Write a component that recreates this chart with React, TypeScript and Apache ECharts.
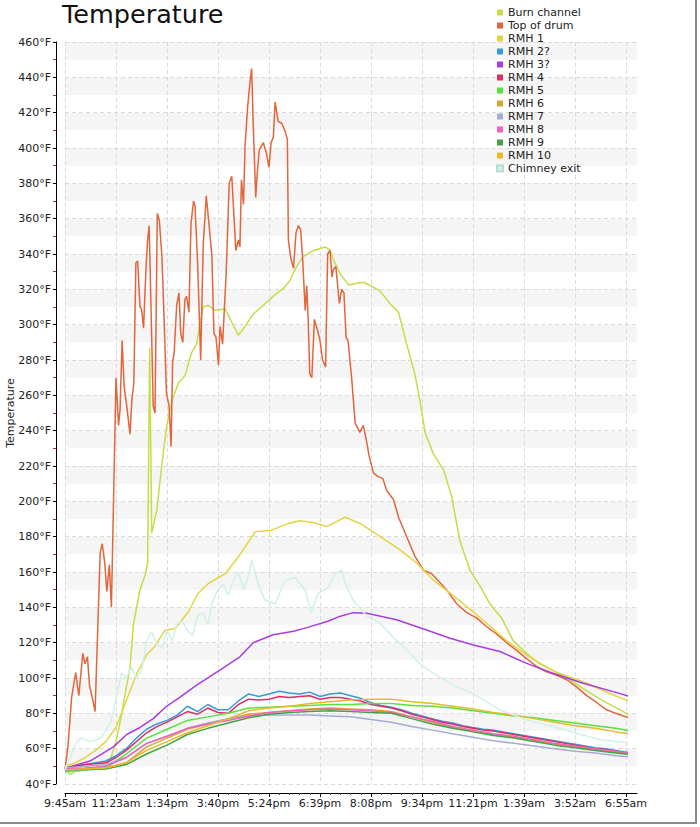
import React, { useEffect, useRef } from "react";
import * as echarts from "echarts";

const TIME_LABELS = ["9:45am", "11:23am", "1:34pm", "3:40pm", "5:24pm", "6:39pm", "8:08pm", "9:34pm", "11:21pm", "1:39am", "3:52am", "6:55am"];

const SERIES_NAMES = ["Burn channel", "Top of drum", "RMH 1", "RMH 2?", "RMH 3?", "RMH 4", "RMH 5", "RMH 6", "RMH 7", "RMH 8", "RMH 9", "RMH 10", "Chimney exit"];
const SERIES_COLORS = ["#c6dc48", "#e2653c", "#e2d640", "#3a98dc", "#a83ce0", "#dc2e62", "#58e040", "#dca232", "#a4acd2", "#f062bc", "#40a444", "#e8ba28", "#d0f0ea"];

// time index samples (one label every 10 samples)
const STEP2_X = [0, 2, 4, 6, 8, 10, 12, 14, 16, 18, 20, 22, 24, 26, 28, 30, 32, 34, 36, 38, 40, 42, 44, 46, 48, 50, 52, 54, 56, 58, 60, 62, 64, 66, 68, 70, 72, 74, 76, 78, 80, 82, 84, 86, 88, 90, 92, 94, 96, 98, 100, 102, 104, 106, 108, 110, 112];
const STEP4_X = [0, 4, 8, 12, 16, 20, 24, 28, 32, 36, 40, 44, 48, 52, 56, 60, 64, 68, 72, 76, 80, 84, 88, 92, 96, 100, 104, 108, 112];

const TOP_OF_DRUM: [number, number][] = [
  [0, 48], [0.6, 62], [1.3, 89], [2.1, 103], [2.7, 90], [3.5, 114], [3.9, 108], [4.4, 112], [4.8, 96], [5.4, 88], [5.9, 81],
  [6.9, 171], [7.3, 176], [7.8, 165], [8.2, 149], [8.7, 164], [9.1, 140], [10, 270], [10.5, 243], [10.8, 252], [11.2, 291],
  [11.6, 265], [12.1, 254], [12.75, 238], [13.1, 257], [13.5, 267], [13.9, 335], [14.25, 336], [14.7, 310], [15, 309],
  [15.4, 298], [15.9, 333], [16.2, 348], [16.5, 356], [17.3, 254], [17.65, 250], [18.1, 363], [18.5, 359], [19, 339],
  [19.4, 306], [19.9, 261], [20.4, 254], [20.8, 231], [21.1, 279], [21.4, 284], [21.9, 311], [22.35, 318], [22.7, 295],
  [23.1, 290], [23.5, 314], [23.85, 316], [24.3, 307], [24.7, 357], [25.2, 370], [25.5, 367], [26, 335], [26.6, 280],
  [27.1, 345], [27.7, 373], [28.1, 361], [28.8, 339], [29.2, 295], [29.6, 293], [30.1, 277], [30.4, 299], [30.9, 289],
  [31.6, 329], [32.2, 380], [32.7, 384], [33.1, 363], [33.5, 342], [34, 348], [34.3, 344], [34.6, 382], [35, 368],
  [35.3, 401], [35.8, 423], [36.3, 438], [36.6, 445], [36.9, 414], [37.4, 372], [37.7, 386], [38.1, 399], [38.9, 403],
  [39.5, 397], [40, 389], [40.4, 403], [40.85, 406], [41.2, 426], [41.8, 415], [42.5, 414], [43.1, 410], [43.6, 405],
  [43.8, 348], [44.25, 338], [44.8, 332], [45.3, 352], [45.75, 356], [46.2, 354], [46.6, 337], [47.1, 308], [47.4, 322],
  [47.7, 301], [48, 272], [48.4, 270], [48.9, 303], [49.5, 297], [50, 291], [50.5, 280], [51.1, 276], [51.5, 340],
  [51.96, 342], [52.35, 327], [52.6, 331], [53.1, 333], [53.8, 312], [54.25, 320], [54.7, 318], [55.1, 293], [55.5, 291],
  [56.2, 270], [56.9, 244], [57.3, 242], [57.8, 239], [58.5, 243], [59.2, 233], [59.6, 226], [60.5, 216], [61.4, 214],
  [62.3, 213], [63.1, 206], [64.4, 201], [65.4, 191], [67, 180], [68.6, 169], [70.3, 161], [71.9, 159], [73.2, 155],
  [74.8, 150], [76.8, 142], [78.8, 137], [80.7, 134], [82.7, 129], [84.6, 125], [86.6, 120], [88.6, 115.5], [90.5, 111],
  [92.5, 106.5], [94.4, 103.5], [96.4, 101.5], [98.4, 99], [100.3, 95], [102.3, 90], [104.3, 86], [106.2, 82], [108, 80],
  [110, 78], [112, 76],
];

const BURN_CHANNEL: [number, number][] = [
  [0, 48], [1, 45.5], [2, 47], [4, 48], [6, 49], [8, 50], [9, 55], [10.1, 65], [11, 78], [11.8, 91], [12.75, 106],
  [13.4, 130], [14.7, 150], [15.7, 158], [16.2, 165], [16.6, 287], [17, 182], [18, 195], [19, 221], [19.9, 242],
  [20.9, 256], [22.2, 267], [23.5, 271], [24.8, 284], [25.8, 289], [26.5, 301], [27.1, 310], [28.1, 311], [29.4, 308],
  [31.4, 309], [32.4, 303], [34, 294], [35.3, 299], [36.9, 306], [38.9, 311], [40.8, 316], [42.8, 320.5], [44.1, 325],
  [45.4, 333], [46.7, 338.5], [48.7, 342], [51, 344], [52, 342], [52.6, 337], [53.9, 329], [55.6, 322.5], [57.2, 323.5],
  [58.5, 324], [60, 322], [61.8, 319], [63.7, 312], [65.4, 307], [67, 289], [68.6, 272], [69.6, 257], [70.6, 239],
  [72.2, 227], [74.2, 218], [75.8, 203], [77.4, 178], [79.4, 161], [81.4, 152], [83.3, 142], [85.6, 134], [87.9, 121],
  [90.5, 114], [93.1, 108], [95.8, 104], [98.4, 100], [101.6, 94], [104.9, 88], [108.8, 82], [112, 77],
];

const RMH1: [number, number][] = [
  [0, 50], [2, 52], [4, 55], [6, 59], [8, 64], [10, 72], [12, 87], [14, 102], [16, 113], [17.6, 118], [19.6, 127],
  [21.6, 128], [24.2, 137.5], [26.1, 148], [28.1, 153.5], [31.4, 159], [34, 168.6], [37.3, 182.8], [40.5, 183.7],
  [43.8, 187.5], [46, 189], [48.7, 188], [51.3, 185.7], [54.9, 191], [57.8, 187.6], [61.8, 180], [65.7, 172.5],
  [69, 165], [72.2, 155.5], [75.5, 148], [78.8, 140.4], [82.7, 131], [86.6, 121], [91.8, 110.5], [96.1, 103.6],
  [102.3, 97], [107.5, 90.4], [112, 85.3],
];

const RMH3: [number, number][] = [
  [0, 49], [4.9, 53], [9.5, 61], [12.1, 68], [14.7, 72], [17.3, 77], [19.9, 84], [22.5, 89], [25.8, 96], [29.1, 102],
  [31.7, 107], [34.3, 112], [36.9, 120], [40.8, 124.5], [44.8, 126.5], [47.4, 128.5], [51.4, 132], [54, 135],
  [56.5, 137], [59.2, 136.6], [65, 133], [70.9, 127.2], [75.5, 122.5], [80.1, 118.7], [85.3, 115], [90.5, 108.3],
  [95.7, 102.7], [101.6, 97], [107.5, 92.3], [112, 88.5],
];

const CHIMNEY: [number, number][] = [
  [0, 48], [1, 55], [2, 62], [3, 66], [5, 64], [7, 66], [9, 75], [10.5, 95], [11.1, 103], [12, 100], [13, 106],
  [14, 100], [15, 104], [16, 121], [17, 126], [18, 119], [19, 117], [20, 127], [21, 121], [22, 131], [23, 132],
  [24, 127], [25, 124], [26, 135], [27, 137], [28, 130], [29, 144], [30, 150], [31, 153], [32, 147], [33, 155],
  [34, 160], [35, 150], [36, 158], [36.6, 167], [37.9, 153], [39.2, 144], [41.2, 142], [43.1, 155], [45.1, 157],
  [47.1, 150], [48.2, 137], [49.7, 148], [51.6, 151], [52.9, 159], [54.3, 161], [54.9, 154], [56.5, 144], [59.2, 135],
  [61.8, 131], [64.4, 123], [67, 116], [69.6, 108], [72.2, 102.6], [76.1, 96], [80.1, 91], [85.3, 82], [90.5, 76.3],
  [95.8, 72.5], [100.3, 68.7], [104.9, 65], [108, 64], [112, 63],
];

const RMH2_V = [49, 50, 51, 52, 53, 56, 60, 66, 71, 74, 76, 79, 84, 81, 85, 82, 82, 87, 91, 89.5, 91, 92.5, 91.5, 91, 92, 89.5, 91, 91.5, 90, 88.5, 86, 84.5, 83.5, 82, 80, 78.5, 77, 75.5, 74.5, 73, 72, 71, 70.5, 69.5, 68.5, 67.5, 66.5, 65.5, 64.5, 63.5, 62.5, 61.5, 60.5, 60, 59, 58, 57.5];
const RMH4_V = [49, 50, 51, 51.5, 52, 55, 59, 64, 69, 72.5, 75, 78, 81, 79.5, 83, 80.5, 80, 85, 88, 87.5, 88, 89.5, 89, 89.5, 90, 88, 89, 89, 88, 87, 85, 84, 83, 81.5, 79.5, 78, 76.5, 75, 74, 72.5, 71.5, 70.5, 70, 69, 68, 67, 66, 65, 64, 63, 62, 61, 60, 59.5, 58.5, 57.5, 57];
const RMH5_V = [47, 48, 49, 57, 66, 71, 76, 78, 80, 83, 83.5, 84, 84.5, 85, 85, 85.5, 85.5, 84.5, 84, 83, 81.5, 80, 78.5, 77.5, 76, 74.5, 73, 71.5, 69.5];
const RMH6_V = [48, 48.5, 49, 52, 61, 66, 71, 74, 77, 79.5, 80.5, 81.5, 82.5, 83, 82.5, 82, 81, 78, 75, 72, 70, 68, 66.5, 64.5, 62.5, 61, 59.5, 58, 56.5];
const RMH7_V = [49, 50, 51, 55, 63, 67, 71.5, 74.5, 77, 78.5, 79, 79, 79, 78.5, 78, 76.5, 75, 72.5, 70.5, 68.5, 66.5, 64.5, 63, 61.5, 60, 58.5, 57.5, 56, 55];
const RMH8_V = [48.5, 49, 50, 55, 63, 67, 71.5, 74, 76, 78.5, 80.5, 81.5, 82, 82.5, 82, 81.5, 80.5, 78, 75.5, 72.5, 70.5, 68.5, 67, 65, 63, 61.5, 60, 58.5, 57];
const RMH9_V = [48, 48, 48.5, 51, 57, 62, 68, 71.5, 74.5, 77.5, 79.5, 80.5, 81, 81.5, 81, 80.5, 80, 77, 74, 71.5, 69.5, 67.5, 66, 64, 62, 60.5, 59, 57.5, 56.5];
const RMH10_V = [48, 48.5, 49, 52, 59, 64, 69, 73, 77, 81.5, 83, 84, 85.5, 86.5, 87.5, 88, 88, 86.5, 85.5, 84, 82.5, 80.5, 79, 77, 75, 73, 71.5, 69.5, 68];

const zip = (xs: number[], ys: number[]) => xs.map((x, k) => [x, ys[k]]);

const SERIES_DATA: number[][][] = [
  BURN_CHANNEL,
  TOP_OF_DRUM,
  RMH1,
  zip(STEP2_X, RMH2_V),
  RMH3,
  zip(STEP2_X, RMH4_V),
  zip(STEP4_X, RMH5_V),
  zip(STEP4_X, RMH6_V),
  zip(STEP4_X, RMH7_V),
  zip(STEP4_X, RMH8_V),
  zip(STEP4_X, RMH9_V),
  zip(STEP4_X, RMH10_V),
  CHIMNEY,
];

const FONT = "DejaVu Sans";

export default function App() {
  const ref = useRef<HTMLDivElement>(null);
  useEffect(() => {
    if (!ref.current) return;
    const chart = echarts.init(ref.current, null, { renderer: "svg" });
    const series = SERIES_NAMES.map((name, k) => ({
      name,
      type: "line",
      xAxisIndex: 1,
      yAxisIndex: 2,
      data: SERIES_DATA[k],
      showSymbol: false,
      symbol: "none",
      clip: false,
      lineStyle: { width: 1.5, color: SERIES_COLORS[k] },
      itemStyle: { color: SERIES_COLORS[k], borderColor: k === 12 ? "#b8dcd8" : SERIES_COLORS[k], borderWidth: k === 12 ? 1 : 0 },
      emphasis: { disabled: true },
    }));
    chart.setOption({
      animation: false,
      backgroundColor: "#ffffff",
      title: {
        text: "Temperature",
        left: 62,
        top: 2,
        padding: 0,
        textStyle: { fontSize: 25.5, fontWeight: "normal", color: "#111", fontFamily: FONT, lineHeight: 24 },
      },
      legend: {
        orient: "vertical",
        left: 496,
        top: 7,
        padding: 0,
        itemWidth: 6,
        itemHeight: 6,
        itemGap: 2,
        icon: "rect",
        selectedMode: false,
        textStyle: { fontSize: 11, color: "#222", fontFamily: FONT, lineHeight: 11 },
        data: SERIES_NAMES,
      },
      grid: [
        { left: 65, right: 63, top: 42, bottom: 43, outerBoundsMode: "none" },
        { left: 65, right: 74, top: 42, bottom: 43, outerBoundsMode: "none" },
      ],
      xAxis: [
        {
          gridIndex: 0,
          type: "value",
          min: 0,
          max: 1,
          position: "bottom",
          offset: 9,
          axisLine: { show: true, lineStyle: { color: "#000", width: 1 } },
          axisTick: { show: false },
          axisLabel: { show: false },
          splitLine: { show: false },
        },
        {
          gridIndex: 1,
          type: "value",
          min: 0,
          max: 110,
          interval: 10,
          position: "bottom",
          offset: 9,
          axisLine: { show: false },
          axisTick: { show: true, length: 4, lineStyle: { color: "#000" } },
          minorTick: { show: true, splitNumber: 5, length: 2, lineStyle: { color: "#444" } },
          axisLabel: {
            formatter: (v: number) => TIME_LABELS[Math.round(v / 10)] ?? "",
            fontSize: 11,
            color: "#222",
            fontFamily: FONT,
            margin: 5,
          },
          splitLine: { show: true, lineStyle: { type: [4, 3], color: "#dadada", width: 1 } },
        },
      ],
      yAxis: [
        {
          gridIndex: 0,
          type: "value",
          position: "left",
          min: 40,
          max: 460,
          interval: 10,
          axisLine: { show: false },
          axisTick: { show: false },
          axisLabel: { show: false },
          splitLine: { show: false },
          splitArea: { show: true, areaStyle: { color: ["#ffffff", "#f5f5f5"] } },
        },
        {
          gridIndex: 0,
          type: "value",
          position: "left",
          min: 40,
          max: 460,
          interval: 20,
          offset: 9,
          axisLine: { show: true, onZero: false, lineStyle: { color: "#000", width: 1 } },
          axisTick: { show: true, length: 3, lineStyle: { color: "#000" } },
          minorTick: { show: true, splitNumber: 2, length: 3, lineStyle: { color: "#d42020" } },
          axisLabel: {
            formatter: (v: number) => `${v}°F`,
            fontSize: 11,
            color: "#222",
            fontFamily: FONT,
            margin: 5,
          },
          splitLine: { show: true, lineStyle: { type: [4, 3], color: "#dadada", width: 1 } },
        },
        { gridIndex: 1, type: "value", position: "left", min: 40, max: 460, show: false },
      ],
      graphic: [
        {
          type: "text",
          x: 10,
          y: 413,
          rotation: Math.PI / 2,
          style: { text: "Temperature", font: `11px "${FONT}"`, fill: "#222", align: "center", verticalAlign: "middle" },
        },
        { type: "line", shape: { x1: 696, y1: 0, x2: 696, y2: 823 }, style: { stroke: "#8a8a8a", lineWidth: 2 }, z: 100 },
        { type: "line", shape: { x1: 0, y1: 823, x2: 697, y2: 823 }, style: { stroke: "#8a8a8a", lineWidth: 2 }, z: 100 },
      ],
      series,
    });
    return () => chart.dispose();
  }, []);
  return <div ref={ref} style={{ position: "fixed", left: 0, top: 0, width: 700, height: 827, background: "#fff" }} />;
}
